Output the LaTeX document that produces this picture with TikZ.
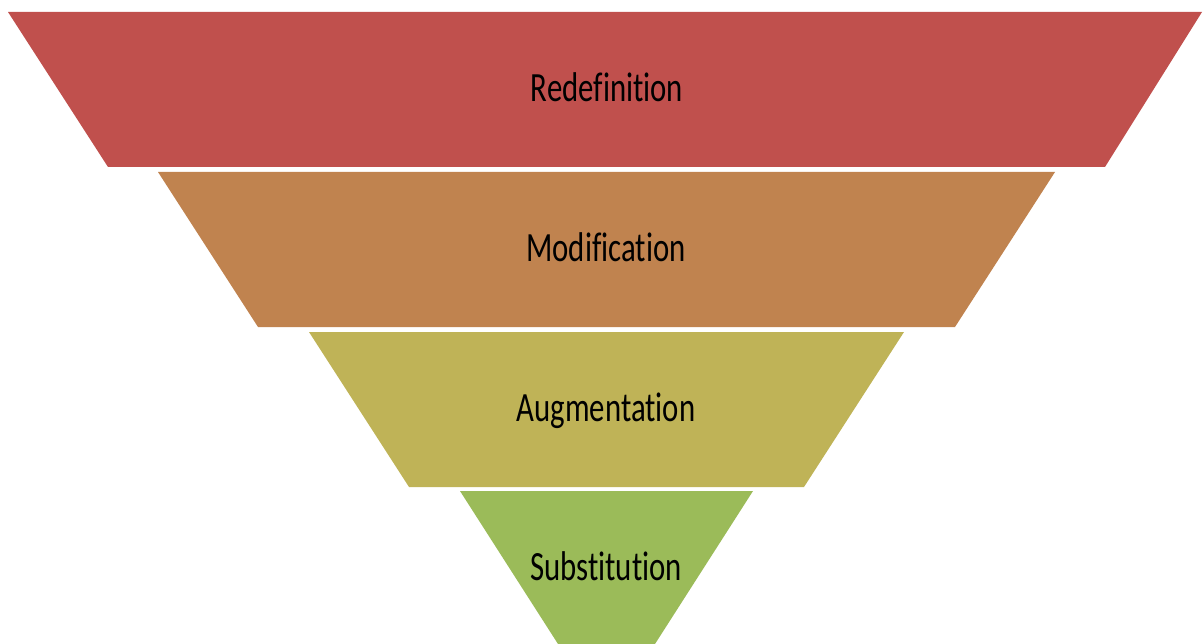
\documentclass[tikz,border=0pt]{standalone}
\usepackage{graphicx}
\usepackage{fontspec}
\setmainfont{Carlito}[Ligatures=NoCommon]
\definecolor{cA}{HTML}{C0504D}
\definecolor{cB}{HTML}{C0834F}
\definecolor{cC}{HTML}{BFB357}
\definecolor{cD}{HTML}{9BBB59}
\newcommand{\stretchtxt}[1]{\scalebox{1}[1.35]{#1}}
\begin{document}
\begin{tikzpicture}[x=1pt,y=-1pt,
  lbl/.style={font=\fontsize{30.8}{36}\selectfont, text=black, inner sep=0pt, anchor=base}]
\useasboundingbox (0,0) rectangle (1204,644);
\fill[cA] (8,12) -- (1202,12) -- (1105,167) -- (108,167) -- cycle;
\fill[cB] (158,172) -- (1055,172) -- (955,327) -- (258,327) -- cycle;
\fill[cC] (309,332) -- (904,332) -- (804,487) -- (409,487) -- cycle;
\fill[cD] (460,491) -- (753,491) -- (655,644) -- (558,644) -- cycle;
\node[lbl] (t1) at (607,102) {\stretchtxt{Redefinition}};
\node[lbl] (t2) at (606,261.5) {\stretchtxt{Modification}};
\node[lbl] (t3) at (606,421) {\stretchtxt{Augmentation}};
\node[lbl] (t4) at (606,580) {\stretchtxt{Substitution}};
\end{tikzpicture}
\end{document}
